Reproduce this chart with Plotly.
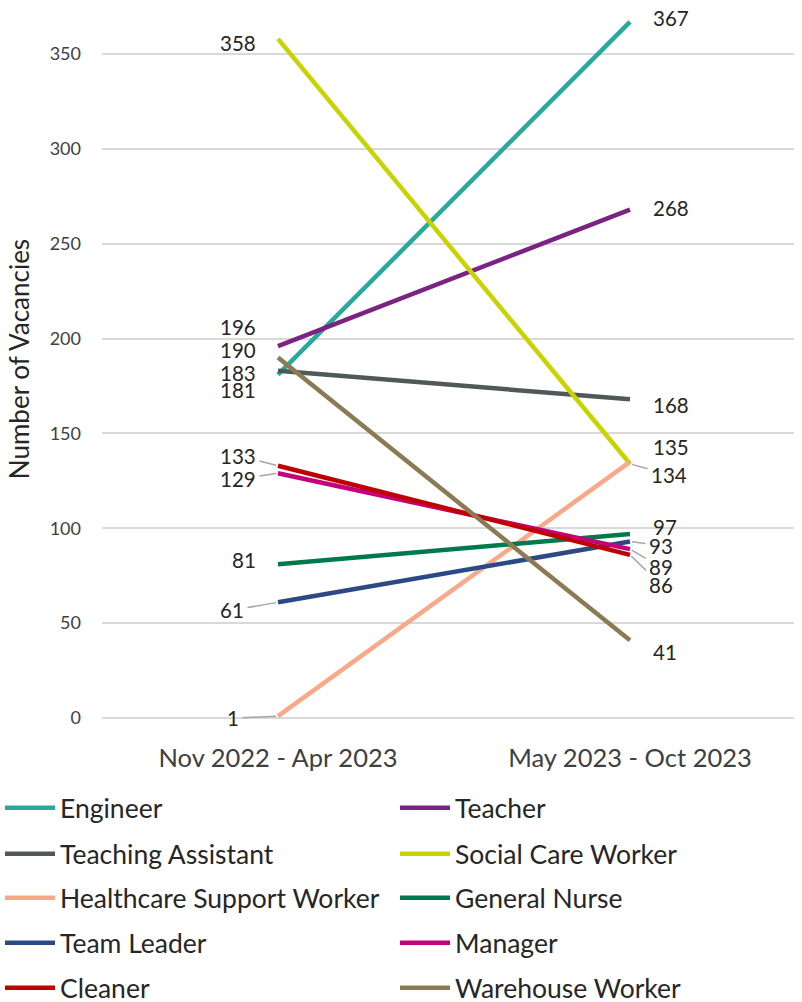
import plotly.graph_objects as go

periods = ["Nov 2022 - Apr 2023", "May 2023 - Oct 2023"]
occupations = ["Engineer", "Teacher", "Teaching Assistant", "Social Care Worker",
               "Healthcare Support Worker", "General Nurse", "Team Leader",
               "Manager", "Cleaner", "Warehouse Worker"]
vac_period1 = [181, 196, 183, 358, 1, 81, 61, 129, 133, 190]
vac_period2 = [367, 268, 168, 134, 135, 97, 93, 89, 86, 41]
y_ticks = [0, 50, 100, 150, 200, 250, 300, 350]

# styles
colors = ["#29A99A", "#7B2383", "#50585C", "#C8D400", "#F9A88A",
          "#007A4A", "#2B4A83", "#C4007A", "#C00000", "#8B7B55"]
# label offsets (px): (mode, dx, dy) ; mode 'n' = plain, 'a' = leader line
left_lbl = [("n", 0, -15), ("n", 0, 19), ("n", 0, -2), ("n", 0, -4), ("a", -45, 2),
            ("n", 0, 4), ("a", -46, 8), ("a", -40, 6), ("a", -40, -10), ("n", 0, 8)]
right_lbl = [("n", 0, 4), ("n", 0, 2), ("n", 0, -6), ("a", 39, 11), ("n", 0, 15),
             ("n", 0, 7), ("a", 31, 4), ("a", 31, 18), ("a", 31, 30), ("n", 0, -12)]

FONT = "Lato"
TXT = "#262626"

fig = go.Figure()
for i, name in enumerate(occupations):
    fig.add_trace(go.Scatter(
        x=[0, 1], y=[vac_period1[i], vac_period2[i]], mode="lines", name=name,
        line=dict(color=colors[i], width=4.5),
        legend="legend" if i == 0 else f"legend{i + 1}",
    ))

annotations = []
for side, vals, lbls in [(0, vac_period1, left_lbl), (1, vac_period2, right_lbl)]:
    for v, (mode, dx, dy) in zip(vals, lbls):
        if mode == "n":
            annotations.append(dict(
                x=side, y=v, text=str(v), showarrow=False,
                xanchor="right" if side == 0 else "left",
                xshift=-20 if side == 0 else 21, yshift=dy,
                font=dict(family=FONT, size=20.5, color=TXT)))
        else:
            annotations.append(dict(
                x=side, y=v, text=str(v), showarrow=True, ax=dx, ay=dy,
                arrowhead=0, arrowwidth=1.5, arrowcolor="#A6A6A6",
                standoff=2, startstandoff=2,
                font=dict(family=FONT, size=20.5, color=TXT)))

row_y_px = [808, 854, 898, 943, 988]
col_x_px = [0, 395]
legends = {}
for i in range(len(occupations)):
    key = "legend" if i == 0 else f"legend{i + 1}"
    legends[key] = dict(
        orientation="h", xref="container", yref="container",
        x=col_x_px[i % 2] / 802, xanchor="left",
        y=1 - row_y_px[i // 2] / 1002, yanchor="middle",
        itemwidth=50,
        font=dict(family=FONT, size=26.5, color=TXT),
        bgcolor="rgba(0,0,0,0)", borderwidth=0,
    )

fig.update_layout(
    width=802, height=1002,
    margin=dict(l=102, r=8, t=0, b=284, autoexpand=False),
    plot_bgcolor="white", paper_bgcolor="white",
    showlegend=True,
    annotations=annotations,
    **legends,
    xaxis=dict(
        range=[-0.5, 1.466], tickvals=[0, 1], ticktext=periods,
        showgrid=False, zeroline=False, showline=False, ticks="",
        ticklabelstandoff=22, automargin=False,
        tickfont=dict(family=FONT, size=25.5, color="#404040"),
    ),
    yaxis=dict(
        range=[0, 378.5], tickvals=y_ticks, showgrid=True,
        gridcolor="#D9D9D9", gridwidth=1.5, zeroline=True,
        zerolinecolor="#D9D9D9", zerolinewidth=1.5, showline=False,
        ticks="", ticklen=0, ticklabelstandoff=20, automargin=False,
        tickfont=dict(family=FONT, size=18, color="#404040"),
        title=dict(text="Number of Vacancies", standoff=12,
                   font=dict(family=FONT, size=26, color=TXT)),
    ),
)

fig.write_html("out.html")
